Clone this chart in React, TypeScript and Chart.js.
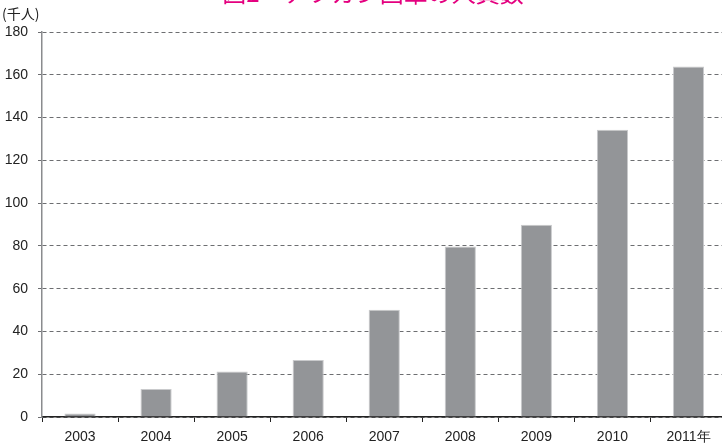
import React, { useEffect, useRef } from "react";
import { Chart, registerables } from "chart.js";

Chart.register(...registerables);

const categories = ["2003", "2004", "2005", "2006", "2007", "2008", "2009", "2010", "2011年"];
const personnel = [1.6, 13.1, 21.3, 26.7, 50.2, 79.7, 89.9, 134.3, 163.9];
const yTicks = [0, 20, 40, 60, 80, 100, 120, 140, 160, 180];
const titleText = "図2　アフガン国軍の人員数";
const unitText = "(千人)";

const textPlugin = {
  id: "extraText",
  afterDraw(chart: any) {
    const ctx = chart.ctx;
    ctx.save();
    ctx.fillStyle = "#e4007f";
    ctx.font = "400 24px 'Noto Sans CJK JP', sans-serif";
    ctx.textAlign = "center";
    ctx.textBaseline = "alphabetic";
    ctx.fillText(titleText, 373, 2);
    ctx.fillStyle = "#222";
    ctx.font = "14px 'Noto Sans CJK JP', sans-serif";
    ctx.textAlign = "left";
    ctx.fillText(unitText, 2, 19);
    ctx.restore();
  },
};

export default function App() {
  const ref = useRef<HTMLCanvasElement>(null);
  useEffect(() => {
    if (!ref.current) return;
    const chart = new Chart(ref.current, {
      type: "bar",
      data: {
        labels: categories,
        datasets: [
          {
            data: personnel,
            backgroundColor: "#939598",
            borderColor: "#c9cacc",
            borderWidth: { left: 1, right: 1, top: 1, bottom: 0 },
            barPercentage: 0.41,
            categoryPercentage: 1,
          },
        ],
      },
      options: {
        responsive: false,
        animation: false,
        devicePixelRatio: 1,
        layout: { padding: { top: 32, right: 13.5, left: 0, bottom: 0 } },
        plugins: {
          legend: { display: false },
          title: { display: false },
          tooltip: { enabled: false },
        },
        scales: {
          x: {
            grid: {
              drawOnChartArea: false,
              tickLength: 5,
              tickColor: "#222",
              offset: true,
            },
            border: { color: "#222", width: 1.5 },
            ticks: {
              color: "#222",
              padding: 7,
              font: { family: "'Liberation Sans', Arial, sans-serif", size: 14 },
              maxRotation: 0,
              autoSkip: false,
            },
            afterFit(scale: any) {
              scale.height = 28;
            },
          },
          y: {
            min: 0,
            max: 180,
            afterBuildTicks(scale: any) {
              scale.ticks = yTicks.map((v) => ({ value: v }));
            },
            grid: {
              color: "#6d6e71",
              lineWidth: 1,
              tickLength: 4,
              tickColor: "#6d6e71",
              tickBorderDash: [],
            },
            border: { color: "#8a8b8e", width: 1.5, dash: [4, 3] },
            ticks: {
              color: "#222",
              padding: 10,
              font: { family: "'Liberation Sans', Arial, sans-serif", size: 14 },
            },
            afterFit(scale: any) {
              scale.width = 42;
            },
          },
        },
      },
      plugins: [textPlugin],
    });
    return () => chart.destroy();
  }, []);
  return (
    <div
      style={{
        position: "fixed",
        left: 0,
        top: 0,
        width: 722,
        height: 445,
        overflow: "hidden",
        background: "#fff",
      }}
    >
      <canvas ref={ref} width={740} height={445} style={{ display: "block" }} />
    </div>
  );
}
